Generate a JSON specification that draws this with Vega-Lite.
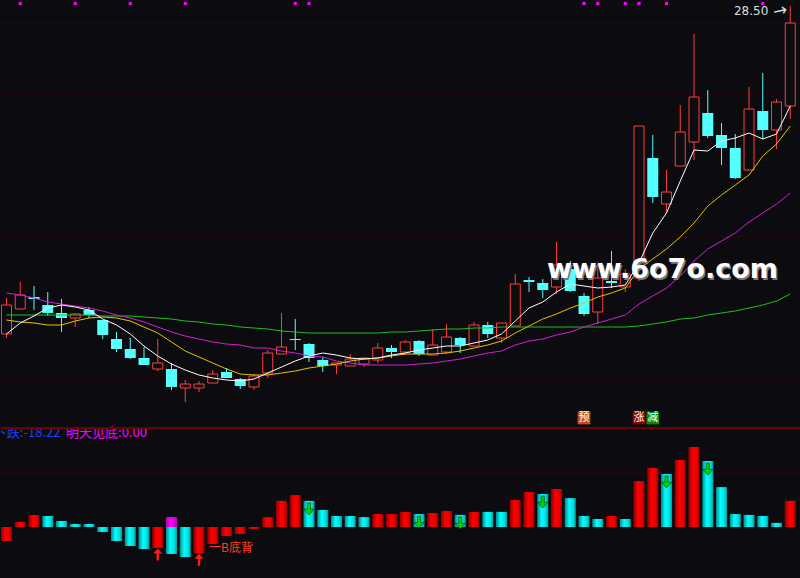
{
"$schema": "https://vega.github.io/schema/vega-lite/v6.json",
"background": "#0c0c10",
"padding": 0,
"spacing": 0,
"config": {"view": {"stroke": null}, "concat": {"spacing": 0}, "scale": {"continuousPadding": 0}, "axis": {"minExtent": 0, "maxExtent": 0, "offset": 0}},
"datasets": {
"k": [
{"i":0,"o":21.94,"c":22.52,"h":22.66,"l":21.86,"m5":21.94,"m10":22.22,"m20":22.76,"m60":22.32,"v":-5.1,"vc":"r"},
{"i":1,"o":22.44,"c":22.72,"h":22.98,"l":22.44,"m5":22.16,"m10":22.18,"m20":22.72,"m60":22.32,"v":1.8,"vc":"r","dot":1},
{"i":2,"o":22.68,"c":22.64,"h":22.90,"l":22.42,"m5":22.30,"m10":22.16,"m20":22.66,"m60":22.32,"v":4.4,"vc":"r"},
{"i":3,"o":22.52,"c":22.36,"h":22.78,"l":22.30,"m5":22.46,"m10":22.12,"m20":22.58,"m60":22.32,"v":4.0,"vc":"c"},
{"i":4,"o":22.36,"c":22.26,"h":22.64,"l":21.98,"m5":22.52,"m10":22.12,"m20":22.54,"m60":22.32,"v":2.2,"vc":"c"},
{"i":5,"o":22.26,"c":22.34,"h":22.36,"l":22.08,"m5":22.48,"m10":22.20,"m20":22.50,"m60":22.32,"v":1.1,"vc":"c","dot":1},
{"i":6,"o":22.42,"c":22.32,"h":22.48,"l":22.26,"m5":22.42,"m10":22.26,"m20":22.46,"m60":22.32,"v":1.1,"vc":"c"},
{"i":7,"o":22.22,"c":21.92,"h":22.22,"l":21.84,"m5":22.24,"m10":22.28,"m20":22.40,"m60":22.30,"v":-1.8,"vc":"c"},
{"i":8,"o":21.84,"c":21.64,"h":21.98,"l":21.58,"m5":22.12,"m10":22.26,"m20":22.32,"m60":22.30,"v":-5.1,"vc":"c"},
{"i":9,"o":21.64,"c":21.46,"h":21.86,"l":21.44,"m5":21.94,"m10":22.20,"m20":22.26,"m60":22.30,"v":-6.9,"vc":"c","dot":1},
{"i":10,"o":21.46,"c":21.32,"h":21.68,"l":21.32,"m5":21.70,"m10":22.08,"m20":22.18,"m60":22.28,"v":-8.0,"vc":"c"},
{"i":11,"o":21.24,"c":21.36,"h":21.84,"l":21.20,"m5":21.50,"m10":21.96,"m20":22.08,"m60":22.26,"v":-7.6,"vc":"r","ra":1},
{"i":12,"o":21.24,"c":20.88,"h":21.36,"l":20.82,"m5":21.34,"m10":21.78,"m20":21.98,"m60":22.24,"v":-9.8,"vc":"c","mg":3.6},
{"i":13,"o":20.86,"c":20.94,"h":21.02,"l":20.58,"m5":21.22,"m10":21.60,"m20":21.90,"m60":22.20,"v":-10.9,"vc":"c","dot":1},
{"i":14,"o":20.86,"c":20.94,"h":21.00,"l":20.78,"m5":21.12,"m10":21.48,"m20":21.84,"m60":22.18,"v":-9.5,"vc":"r","ra":1,"note":"一B底背"},
{"i":15,"o":20.96,"c":21.14,"h":21.22,"l":20.96,"m5":21.06,"m10":21.36,"m20":21.78,"m60":22.14,"v":-6.2,"vc":"r"},
{"i":16,"o":21.18,"c":21.06,"h":21.26,"l":21.06,"m5":21.02,"m10":21.24,"m20":21.74,"m60":22.12,"v":-3.3,"vc":"r"},
{"i":17,"o":21.04,"c":20.90,"h":21.06,"l":20.84,"m5":21.00,"m10":21.14,"m20":21.72,"m60":22.08,"v":-2.5,"vc":"r"},
{"i":18,"o":20.88,"c":21.10,"h":21.14,"l":20.82,"m5":21.04,"m10":21.12,"m20":21.66,"m60":22.06,"v":-0.7,"vc":"r"},
{"i":19,"o":21.16,"c":21.56,"h":21.62,"l":21.06,"m5":21.16,"m10":21.12,"m20":21.66,"m60":22.04,"v":3.6,"vc":"r"},
{"i":20,"o":21.54,"c":21.68,"h":22.36,"l":21.54,"m5":21.28,"m10":21.16,"m20":21.60,"m60":22.00,"v":9.5,"vc":"r"},
{"i":21,"o":21.84,"c":21.82,"h":22.24,"l":21.62,"m5":21.40,"m10":21.20,"m20":21.56,"m60":21.98,"v":11.6,"vc":"r","dot":1},
{"i":22,"o":21.74,"c":21.46,"h":21.76,"l":21.38,"m5":21.50,"m10":21.26,"m20":21.50,"m60":21.96,"v":9.5,"vc":"c","ga":1,"dot":1},
{"i":23,"o":21.42,"c":21.30,"h":21.48,"l":21.18,"m5":21.56,"m10":21.30,"m20":21.48,"m60":21.96,"v":6.2,"vc":"c"},
{"i":24,"o":21.32,"c":21.36,"h":21.36,"l":21.14,"m5":21.52,"m10":21.34,"m20":21.40,"m60":21.96,"v":4.0,"vc":"c"},
{"i":25,"o":21.30,"c":21.44,"h":21.54,"l":21.30,"m5":21.46,"m10":21.40,"m20":21.36,"m60":21.96,"v":4.0,"vc":"c"},
{"i":26,"o":21.34,"c":21.46,"h":21.48,"l":21.28,"m5":21.44,"m10":21.44,"m20":21.32,"m60":21.96,"v":3.6,"vc":"c"},
{"i":27,"o":21.42,"c":21.66,"h":21.76,"l":21.36,"m5":21.46,"m10":21.46,"m20":21.32,"m60":21.96,"v":4.7,"vc":"r"},
{"i":28,"o":21.66,"c":21.58,"h":21.72,"l":21.46,"m5":21.52,"m10":21.50,"m20":21.32,"m60":21.98,"v":4.7,"vc":"r"},
{"i":29,"o":21.58,"c":21.78,"h":21.82,"l":21.52,"m5":21.56,"m10":21.54,"m20":21.32,"m60":21.98,"v":5.5,"vc":"r"},
{"i":30,"o":21.80,"c":21.54,"h":21.82,"l":21.50,"m5":21.62,"m10":21.54,"m20":21.34,"m60":22.00,"v":4.7,"vc":"c","ga":1},
{"i":31,"o":21.52,"c":21.72,"h":22.04,"l":21.52,"m5":21.66,"m10":21.54,"m20":21.36,"m60":22.02,"v":5.1,"vc":"r"},
{"i":32,"o":21.58,"c":21.88,"h":22.14,"l":21.54,"m5":21.70,"m10":21.56,"m20":21.40,"m60":22.04,"v":5.8,"vc":"r"},
{"i":33,"o":21.86,"c":21.72,"h":21.88,"l":21.56,"m5":21.70,"m10":21.60,"m20":21.44,"m60":22.04,"v":4.4,"vc":"c","ga":1},
{"i":34,"o":21.70,"c":22.12,"h":22.18,"l":21.70,"m5":21.76,"m10":21.66,"m20":21.50,"m60":22.06,"v":5.5,"vc":"r"},
{"i":35,"o":22.12,"c":21.94,"h":22.18,"l":21.86,"m5":21.82,"m10":21.72,"m20":21.56,"m60":22.06,"v":5.5,"vc":"c"},
{"i":36,"o":21.86,"c":22.16,"h":22.16,"l":21.76,"m5":21.94,"m10":21.80,"m20":21.60,"m60":22.08,"v":5.5,"vc":"c"},
{"i":37,"o":22.10,"c":22.94,"h":23.14,"l":22.10,"m5":22.20,"m10":21.96,"m20":21.72,"m60":22.08,"v":9.8,"vc":"r"},
{"i":38,"o":23.02,"c":22.98,"h":23.08,"l":22.78,"m5":22.46,"m10":22.10,"m20":21.80,"m60":22.08,"v":12.7,"vc":"r"},
{"i":39,"o":22.96,"c":22.82,"h":23.04,"l":22.66,"m5":22.58,"m10":22.24,"m20":21.84,"m60":22.08,"v":12.0,"vc":"c","ga":1},
{"i":40,"o":22.88,"c":23.32,"h":23.78,"l":22.74,"m5":22.78,"m10":22.34,"m20":21.92,"m60":22.08,"v":13.8,"vc":"r"},
{"i":41,"o":23.24,"c":22.80,"h":23.40,"l":22.78,"m5":22.94,"m10":22.46,"m20":21.98,"m60":22.08,"v":10.5,"vc":"c"},
{"i":42,"o":22.70,"c":22.34,"h":22.76,"l":22.30,"m5":22.90,"m10":22.56,"m20":22.08,"m60":22.08,"v":4.0,"vc":"c","dot":1,"badge":"预"},
{"i":43,"o":22.38,"c":23.06,"h":23.34,"l":22.14,"m5":22.86,"m10":22.68,"m20":22.16,"m60":22.08,"v":2.9,"vc":"c","dot":1},
{"i":44,"o":23.00,"c":22.96,"h":23.60,"l":22.86,"m5":22.88,"m10":22.76,"m20":22.24,"m60":22.08,"v":4.0,"vc":"r"},
{"i":45,"o":22.88,"c":23.14,"h":23.24,"l":22.78,"m5":22.92,"m10":22.86,"m20":22.32,"m60":22.08,"v":2.9,"vc":"c","dot":1},
{"i":46,"o":23.06,"c":26.10,"h":26.10,"l":23.00,"m5":23.36,"m10":23.24,"m20":22.54,"m60":22.10,"v":16.7,"vc":"r","dot":1,"badge":"涨"},
{"i":47,"o":25.46,"c":24.68,"h":25.92,"l":24.56,"m5":23.96,"m10":23.44,"m20":22.70,"m60":22.14,"v":21.5,"vc":"r","badge":"减"},
{"i":48,"o":24.54,"c":24.78,"h":25.22,"l":24.38,"m5":24.36,"m10":23.64,"m20":22.86,"m60":22.18,"v":19.3,"vc":"c","ga":1,"dot":1},
{"i":49,"o":25.30,"c":25.98,"h":26.52,"l":25.30,"m5":25.00,"m10":23.88,"m20":23.10,"m60":22.24,"v":24.4,"vc":"r"},
{"i":50,"o":25.78,"c":26.68,"h":27.94,"l":25.42,"m5":25.62,"m10":24.16,"m20":23.40,"m60":22.26,"v":29.1,"vc":"r"},
{"i":51,"o":26.36,"c":25.90,"h":26.82,"l":25.86,"m5":25.60,"m10":24.50,"m20":23.64,"m60":22.32,"v":24.0,"vc":"c","ga":1},
{"i":52,"o":25.92,"c":25.66,"h":26.16,"l":25.32,"m5":25.80,"m10":24.72,"m20":23.80,"m60":22.36,"v":14.5,"vc":"c"},
{"i":53,"o":25.66,"c":25.06,"h":25.94,"l":25.04,"m5":25.86,"m10":24.92,"m20":23.96,"m60":22.40,"v":4.7,"vc":"c"},
{"i":54,"o":25.22,"c":26.44,"h":26.88,"l":25.22,"m5":25.96,"m10":25.12,"m20":24.18,"m60":22.46,"v":4.4,"vc":"c"},
{"i":55,"o":26.40,"c":26.02,"h":27.16,"l":25.84,"m5":25.84,"m10":25.50,"m20":24.36,"m60":22.52,"v":4.0,"vc":"c","dot":1},
{"i":56,"o":26.02,"c":26.58,"h":26.64,"l":25.64,"m5":25.94,"m10":25.74,"m20":24.54,"m60":22.60,"v":1.5,"vc":"c"},
{"i":57,"o":26.50,"c":28.16,"h":28.50,"l":26.24,"m5":26.50,"m10":26.10,"m20":24.76,"m60":22.74,"v":9.5,"vc":"r"}
]
},
"vconcat": [
{
"width": 800,
"height": 425,
"data": {"name": "k"},
"layer": [
{"mark": {"type": "rule", "strokeWidth": 1},
 "encoding": {
  "x": {"field": "i", "type": "quantitative", "scale": {"domain": [-0.4, 57.78], "nice": false, "zero": false, "padding": 0}, "axis": null},
  "y": {"field": "h", "type": "quantitative", "scale": {"domain": [20.1, 28.6], "nice": false, "zero": false, "padding": 0},
        "axis": {"values": [28.16, 26.74, 25.32, 23.9, 22.48, 21.06], "grid": true, "labels": false, "ticks": false, "domain": false, "title": null, "gridColor": "#6a0000", "gridDash": [1, 3], "gridWidth": 1}},
  "y2": {"field": "l"},
  "color": {"condition": {"test": "datum.c >= datum.o", "value": "#ff3c3c"}, "value": "#54ffff"}
 }},
{"transform": [{"filter": "datum.c >= datum.o"}],
 "mark": {"type": "bar", "width": 10, "fill": "#0c0c10", "stroke": "#ff3c3c", "strokeWidth": 1},
 "encoding": {"x": {"field": "i", "type": "quantitative"}, "y": {"field": "o", "type": "quantitative"}, "y2": {"field": "c"}}},
{"transform": [{"filter": "datum.c < datum.o"}],
 "mark": {"type": "bar", "width": 11, "fill": "#54ffff"},
 "encoding": {"x": {"field": "i", "type": "quantitative"}, "y": {"field": "o", "type": "quantitative"}, "y2": {"field": "c"}}},
{"mark": {"type": "line", "color": "#1ebe1e", "strokeWidth": 1},
 "encoding": {"x": {"field": "i", "type": "quantitative"}, "y": {"field": "m60", "type": "quantitative"}}},
{"mark": {"type": "line", "color": "#d21ed2", "strokeWidth": 1},
 "encoding": {"x": {"field": "i", "type": "quantitative"}, "y": {"field": "m20", "type": "quantitative"}}},
{"mark": {"type": "line", "color": "#e6c200", "strokeWidth": 1},
 "encoding": {"x": {"field": "i", "type": "quantitative"}, "y": {"field": "m10", "type": "quantitative"}}},
{"mark": {"type": "line", "color": "#ffffff", "strokeWidth": 1},
 "encoding": {"x": {"field": "i", "type": "quantitative"}, "y": {"field": "m5", "type": "quantitative"}}},
{"transform": [{"filter": "datum.dot"}],
 "mark": {"type": "square", "size": 10, "color": "#ff00ff", "opacity": 1, "filled": true},
 "encoding": {"x": {"field": "i", "type": "quantitative"}, "y": {"datum": 28.55}}},
{"transform": [{"filter": "datum.badge"}],
 "mark": {"type": "square", "size": 160, "filled": true, "opacity": 1},
 "encoding": {"x": {"field": "i", "type": "quantitative"}, "y": {"datum": 20.26},
  "color": {"field": "badge", "type": "nominal", "scale": {"domain": ["预", "涨", "减"], "range": ["#c2501a", "#8c0000", "#008c00"]}, "legend": null}}},
{"transform": [{"filter": "datum.badge"}],
 "mark": {"type": "text", "color": "#ffffff", "fontSize": 11, "font": "Noto Sans CJK SC", "baseline": "middle", "align": "center"},
 "encoding": {"x": {"field": "i", "type": "quantitative"}, "y": {"datum": 20.26}, "text": {"field": "badge"}}},
{"transform": [{"filter": "datum.i == 57"}],
 "mark": {"type": "text", "color": "#dcdcdc", "fontSize": 12, "font": "DejaVu Sans", "align": "right", "baseline": "middle", "dx": -22, "dy": 5},
 "encoding": {"x": {"field": "i", "type": "quantitative"}, "y": {"field": "h", "type": "quantitative"}, "text": {"field": "h", "format": ".2f"}}},
{"transform": [{"filter": "datum.i == 57"}],
 "mark": {"type": "text", "text": "→", "color": "#dcdcdc", "fontSize": 17, "font": "DejaVu Sans", "align": "center", "baseline": "middle", "dx": -11, "dy": 3, "angle": -12},
 "encoding": {"x": {"field": "i", "type": "quantitative"}, "y": {"field": "h", "type": "quantitative"}}},
{"data": {"values": [{}]},
 "mark": {"type": "text", "text": "www.6o7o.com", "color": "#7a7a7a", "fontSize": 27, "font": "DejaVu Sans", "fontWeight": "bold", "align": "center", "baseline": "alphabetic", "dx": 1.5, "dy": 1.5},
 "encoding": {"x": {"datum": 47.7}, "y": {"datum": 23.06}}},
{"data": {"values": [{}]},
 "mark": {"type": "text", "text": "www.6o7o.com", "color": "#ffffff", "fontSize": 27, "font": "DejaVu Sans", "fontWeight": "bold", "align": "center", "baseline": "alphabetic"},
 "encoding": {"x": {"datum": 47.7}, "y": {"datum": 23.06}}}
]
},
{
"width": 800,
"height": 153,
"data": {"name": "k"},
"layer": [
{"transform": [{"filter": "datum.vc == 'r'"}],
 "mark": {"type": "bar", "width": 11, "fill": {"gradient": "linear", "x1": 0, "y1": 0, "x2": 1, "y2": 0, "stops": [{"offset": 0, "color": "#900000"}, {"offset": 0.4, "color": "#ff0000"}, {"offset": 0.75, "color": "#e80000"}, {"offset": 1, "color": "#960000"}]}},
 "encoding": {
  "x": {"field": "i", "type": "quantitative", "scale": {"domain": [-0.4, 57.78], "nice": false, "zero": false, "padding": 0}, "axis": null},
  "y": {"field": "v", "type": "quantitative", "scale": {"domain": [-19.27, 36.36], "nice": false, "zero": false, "padding": 0},
        "axis": {"values": [10, 20], "grid": true, "labels": false, "ticks": false, "domain": false, "title": null, "gridColor": "#6a0000", "gridDash": [1, 3], "gridWidth": 1}},
  "y2": {"datum": 0}
 }},
{"transform": [{"filter": "datum.vc == 'c'"}],
 "mark": {"type": "bar", "width": 11, "fill": {"gradient": "linear", "x1": 0, "y1": 0, "x2": 1, "y2": 0, "stops": [{"offset": 0, "color": "#008a8a"}, {"offset": 0.4, "color": "#00ffff"}, {"offset": 0.75, "color": "#00e0e0"}, {"offset": 1, "color": "#009a9a"}]}},
 "encoding": {"x": {"field": "i", "type": "quantitative"}, "y": {"field": "v", "type": "quantitative"}, "y2": {"datum": 0}}},
{"transform": [{"filter": "datum.mg"}],
 "mark": {"type": "bar", "width": 11, "fill": {"gradient": "linear", "x1": 0, "y1": 0, "x2": 1, "y2": 0, "stops": [{"offset": 0, "color": "#b000b0"}, {"offset": 0.4, "color": "#ff00ff"}, {"offset": 1, "color": "#c000c0"}]}},
 "encoding": {"x": {"field": "i", "type": "quantitative"}, "y": {"field": "mg", "type": "quantitative"}, "y2": {"datum": 0}}},
{"transform": [{"filter": "datum.ga"}],
 "mark": {"type": "point", "shape": "M0,1 L0.85,0.05 L0.25,0.05 L0.25,-1 L-0.25,-1 L-0.25,0.05 L-0.85,0.05 Z", "size": 144, "filled": true, "fill": "#00d400", "stroke": "#002a00", "strokeWidth": 0.6, "opacity": 1, "yOffset": 8},
 "encoding": {"x": {"field": "i", "type": "quantitative"}, "y": {"field": "v", "type": "quantitative"}}},
{"transform": [{"filter": "datum.ra"}],
 "mark": {"type": "point", "shape": "M0,-1 L0.75,-0.15 L0.2,-0.15 L0.2,1 L-0.2,1 L-0.2,-0.15 L-0.75,-0.15 Z", "size": 144, "filled": true, "fill": "#ff1a1a", "strokeWidth": 0, "opacity": 1, "yOffset": 6.5},
 "encoding": {"x": {"field": "i", "type": "quantitative"}, "y": {"field": "v", "type": "quantitative"}}},
{"transform": [{"filter": "datum.note"}],
 "mark": {"type": "text", "color": "#ff3c1e", "fontSize": 12, "font": "Noto Sans CJK SC", "align": "left", "baseline": "middle", "dx": 10, "dy": -5},
 "encoding": {"x": {"field": "i", "type": "quantitative"}, "y": {"field": "v", "type": "quantitative"}, "text": {"field": "note"}}},
{"data": {"values": [{}]},
 "mark": {"type": "text", "text": "下跌:-18.22", "color": "#1e3cff", "fontSize": 13, "font": "Noto Sans CJK SC", "align": "left", "baseline": "middle", "clip": true},
 "encoding": {"x": {"datum": -0.92}, "y": {"datum": 34.2}}},
{"data": {"values": [{}]},
 "mark": {"type": "text", "text": "明天见底:0.00", "color": "#ff00ff", "fontSize": 13, "font": "Noto Sans CJK SC", "align": "left", "baseline": "middle"},
 "encoding": {"x": {"datum": 4.33}, "y": {"datum": 34.2}}},
{"data": {"values": [{}]},
 "mark": {"type": "rule", "color": "#6e0000", "strokeWidth": 2},
 "encoding": {"y": {"datum": 36.0}}},
{"data": {"values": [{}]},
 "mark": {"type": "rule", "color": "#6e0000", "strokeWidth": 1.5},
 "encoding": {"y": {"datum": -19.0}}}
]
}
]
}
